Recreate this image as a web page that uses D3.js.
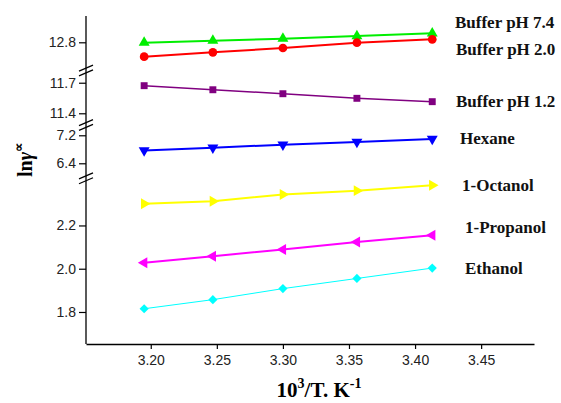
<!DOCTYPE html>
<html>
<head>
<meta charset="utf-8">
<script src="https://cdn.jsdelivr.net/npm/d3@7"></script>
<style>
	body { margin: 0; background: #fff; }
	svg { display: block; }
</style>
</head>
<body>
<div id="graph"></div>
<script>
	// 10^3/T for 313.15 .. 293.15 K
	var xvals = [3.195, 3.247, 3.300, 3.356, 3.413];
	var xticks = [3.20, 3.25, 3.30, 3.35, 3.40, 3.45];

	var names = ["Buffer pH 7.4", "Buffer pH 2.0", "Buffer pH 1.2", "Hexane", "1-Octanol", "1-Propanol", "Ethanol"];
	var buffer74 = [12.796, 12.816, 12.836, 12.863, 12.890];
	var buffer20 = [12.656, 12.700, 12.743, 12.796, 12.830];
	var buffer12 = [11.671, 11.631, 11.592, 11.547, 11.514];
	var hexane = [6.766, 6.846, 6.931, 7.009, 7.094];
	var octanol = [2.300, 2.312, 2.343, 2.361, 2.386];
	var propanol = [2.028, 2.058, 2.089, 2.124, 2.155];
	var ethanol = [1.815, 1.857, 1.908, 1.955, 2.003];

	// broken y axis: each piece has its own domain and ticks
	var seg1ticks = [1.8, 2.0, 2.2];
	var seg2ticks = [6.4, 7.2];
	var seg3ticks = [11.4, 11.7];
	var seg4ticks = [12.8];

	var width = 561, height = 403;
	var margin = {left: 86, right: 27, top: 16, bottom: 59};
	var breaks = [178.3, 125, 70.5];

	var svg = d3.select("#graph").append("svg")
		.attr("width", width)
		.attr("height", height);

	var x = d3.scaleLinear().domain([3.151, 3.490]).range([margin.left, width - margin.right]);

	var segments = [
		{scale: d3.scaleLinear().domain([1.652, 2.418]).range([height - margin.bottom, breaks[0]]), ticks: seg1ticks},
		{scale: d3.scaleLinear().domain([5.971, 7.494]).range([breaks[0], breaks[1]]), ticks: seg2ticks},
		{scale: d3.scaleLinear().domain([11.285, 11.820]).range([breaks[1], breaks[2]]), ticks: seg3ticks},
		{scale: d3.scaleLinear().domain([12.518, 13.063]).range([breaks[2], margin.top]), ticks: seg4ticks},
	];

	var series = [
		{values: buffer74, seg: 3, color: "#00ee00", sym: d3.symbolTriangle, size: 52, rot: 0, lw: 2, lx: 455, ly: 28},
		{values: buffer20, seg: 3, color: "#ff0000", sym: d3.symbolCircle, size: 60, rot: 0, lw: 2, lx: 456, ly: 55},
		{values: buffer12, seg: 2, color: "#800080", sym: d3.symbolSquare, size: 48, rot: 0, lw: 1.5, lx: 456, ly: 107},
		{values: hexane, seg: 1, color: "#0000ff", sym: d3.symbolTriangle, size: 52, rot: 180, lw: 2, lx: 460, ly: 144},
		{values: octanol, seg: 0, color: "#ffff00", sym: d3.symbolTriangle, size: 52, rot: 90, lw: 2, lx: 462, ly: 191},
		{values: propanol, seg: 0, color: "#ff00ff", sym: d3.symbolTriangle, size: 52, rot: -90, lw: 2, lx: 465, ly: 233},
		{values: ethanol, seg: 0, color: "#00ffff", sym: d3.symbolSquare, size: 42, rot: 45, lw: 1, lx: 465, ly: 274},
	];

	// X axis
	var xAxis = svg.append("g")
		.attr("transform", `translate(0,${height - margin.bottom})`)
		.call(d3.axisBottom(x).tickValues(xticks).tickFormat(d3.format(".2f")).tickSize(5).tickSizeOuter(0));
	xAxis.select(".domain").attr("stroke", "#000").attr("stroke-width", 1.3);
	xAxis.selectAll(".tick line").attr("stroke", "#000").attr("stroke-width", 1.2);
	xAxis.selectAll(".tick text")
		.attr("y", 11)
		.style("font-family", "'Liberation Sans', Arial, sans-serif")
		.style("font-size", "14px")
		.attr("fill", "#222");

	// Y axis pieces
	svg.append("line")
		.attr("x1", margin.left).attr("x2", margin.left)
		.attr("y1", margin.top).attr("y2", height - margin.bottom)
		.attr("stroke", "#000").attr("stroke-width", 1.3);

	segments.forEach(function(s){
		var g = svg.append("g")
			.attr("transform", `translate(${margin.left},0)`)
			.call(d3.axisLeft(s.scale).tickValues(s.ticks).tickFormat(d3.format(".1f")).tickSize(7).tickSizeOuter(0));
		g.select(".domain").remove();
		g.selectAll(".tick line").attr("stroke", "#000").attr("stroke-width", 1.2);
		g.selectAll(".tick text")
			.attr("x", -10)
			.style("font-family", "'Liberation Sans', Arial, sans-serif")
			.style("font-size", "14px")
			.attr("fill", "#222");
	});

	// break marks
	var brk = svg.append("g");
	breaks.forEach(function(b){
		[-2.4, 2.4].forEach(function(off){
			brk.append("line")
				.attr("x1", margin.left - 7).attr("y1", b + off + 3)
				.attr("x2", margin.left + 7).attr("y2", b + off - 3)
				.attr("stroke", "#000").attr("stroke-width", 1.2);
		});
	});

	// series
	series.forEach(function(s){
		var y = segments[s.seg].scale;
		var pts = s.values.map((v, i) => [xvals[i], v]);

		svg.append("path")
			.attr("fill", "none")
			.attr("stroke", s.color)
			.attr("stroke-width", s.lw)
			.attr("d", d3.line().x(d => x(d[0])).y(d => y(d[1]))(pts));

		svg.append("g").selectAll("path")
			.data(pts)
			.join("path")
			.attr("d", d3.symbol().type(s.sym).size(s.size))
			.attr("transform", d => `translate(${x(d[0])},${y(d[1])}) rotate(${s.rot})`)
			.attr("fill", s.color);
	});

	// series labels
	svg.append("g").selectAll("text")
		.data(series)
		.join("text")
		.attr("x", d => d.lx)
		.attr("y", d => d.ly)
		.style("font-family", "'Liberation Serif', 'Times New Roman', serif")
		.style("font-weight", "bold")
		.style("font-size", "17px")
		.attr("fill", "#111")
		.text((d, i) => names[i]);

	// axis titles
	var xt = svg.append("text")
		.attr("x", 319)
		.attr("y", 397)
		.attr("text-anchor", "middle")
		.style("font-family", "'Liberation Serif', 'Times New Roman', serif")
		.style("font-weight", "bold")
		.style("font-size", "21px");
	xt.append("tspan").text("10");
	xt.append("tspan").attr("dy", -9).style("font-size", "14px").text("3");
	xt.append("tspan").attr("dy", 9).text("/T. K");
	xt.append("tspan").attr("dy", -9).style("font-size", "14px").text("-1");

	var yt = svg.append("text")
		.attr("transform", "translate(32,160) rotate(-90)")
		.attr("text-anchor", "middle")
		.style("font-family", "'Liberation Serif', 'Times New Roman', serif")
		.style("font-weight", "bold")
		.style("font-size", "20px");
	yt.append("tspan").text("ln");
	yt.append("tspan").style("font-style", "italic").text("γ");
	yt.append("tspan").attr("dy", -9).style("font-size", "13px").text("∝");
</script>
</body>
</html>
